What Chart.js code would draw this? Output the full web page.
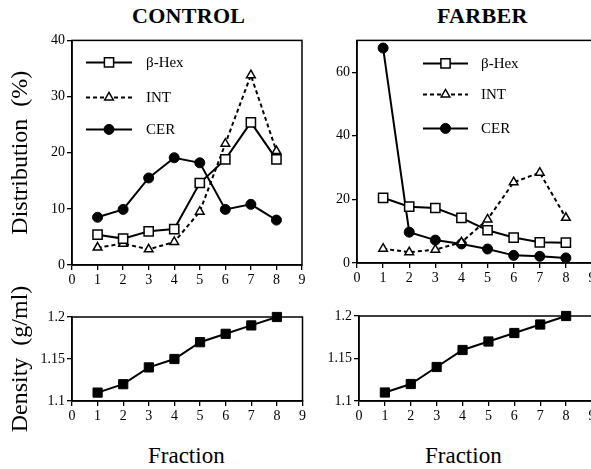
<!DOCTYPE html>
<html>
<head>
<meta charset="utf-8">
<script src="https://cdn.jsdelivr.net/npm/chart.js@4/dist/chart.umd.min.js"></script>
<style>
html, body { margin: 0; padding: 0; background: #fff; overflow: hidden; width: 591px; height: 469px; }
.cv { position: absolute; }
.cap { position: absolute; color: #000; font-family: "Liberation Serif", serif; white-space: nowrap; }
.head { top: 5px; font-size: 22px; line-height: 22px; font-weight: bold; letter-spacing: 0.3px; }
.frac { top: 444px; font-size: 23px; line-height: 23px; }
</style>
</head>
<body>

<div class="cap head" style="left:132px">CONTROL</div>
<div class="cap head" style="left:437px">FARBER</div>
<div class="cap frac" style="left:148px">Fraction</div>
<div class="cap frac" style="left:425px">Fraction</div>

<canvas id="ctlDist" class="cv" style="left:0;top:30px" width="310" height="270"></canvas>
<canvas id="farDist" class="cv" style="left:310px;top:30px" width="290" height="270"></canvas>
<canvas id="ctlDens" class="cv" style="left:0;top:270px" width="310" height="199"></canvas>
<canvas id="farDens" class="cv" style="left:310px;top:270px" width="290" height="199"></canvas>

<script>
// ---------------------------------------------------------
// data
// ---------------------------------------------------------

const fractions = [1, 2, 3, 4, 5, 6, 7, 8];

const ctlHex = [5.4, 4.7, 6.0, 6.4, 14.6, 18.8, 25.4, 18.8];
const ctlInt = [3.1, 3.8, 2.8, 4.1, 9.5, 21.6, 33.8, 20.3];
const ctlCer = [8.5, 9.9, 15.5, 19.1, 18.2, 9.9, 10.8, 8.0];

const farHex = [20.5, 17.7, 17.3, 14.2, 10.3, 8.0, 6.5, 6.4];
const farInt = [4.5, 3.4, 4.2, 6.5, 13.7, 25.4, 28.4, 14.2];
const farCer = [67.6, 9.7, 7.2, 6.0, 4.4, 2.4, 2.1, 1.6];

const ctlDensity = [1.11, 1.12, 1.14, 1.15, 1.17, 1.18, 1.19, 1.20];
const farDensity = [1.11, 1.12, 1.14, 1.16, 1.17, 1.18, 1.19, 1.20];

const fractionTicks = [0, 1, 2, 3, 4, 5, 6, 7, 8, 9];
const ctlDistTicks = [0, 10, 20, 30, 40];
const farDistTicks = [0, 20, 40, 60];
const densityTicks = [1.1, 1.15, 1.2];

const serif = "'Liberation Serif', 'Times New Roman', serif";


// ---------------------------------------------------------
// little plugins: box frame + key inside the plot
// ---------------------------------------------------------

const framePlugin = {
    id: "frame",
    beforeDatasetsDraw(chart) {
        const {ctx, chartArea: a} = chart;
        ctx.save();
        ctx.strokeStyle = "#000";
        ctx.lineWidth = 1.5;
        ctx.strokeRect(a.left, a.top, a.right - a.left, a.bottom - a.top);
        ctx.restore();
    }
};

function marker(ctx, ds, x, y) {
    const r = ds.pointRadius;
    ctx.fillStyle = ds.pointBackgroundColor;
    ctx.strokeStyle = ds.pointBorderColor;
    ctx.lineWidth = ds.pointBorderWidth;
    ctx.beginPath();
    if (ds.pointStyle === "rect") {
        const s = Math.SQRT1_2 * r;
        ctx.rect(x - s, y - s, 2 * s, 2 * s);
    } else if (ds.pointStyle === "triangle") {
        ctx.moveTo(x, y - r);
        ctx.lineTo(x + r * 0.866, y + r * 0.5);
        ctx.lineTo(x - r * 0.866, y + r * 0.5);
        ctx.closePath();
    } else {
        ctx.arc(x, y, r, 0, Math.PI * 2);
    }
    ctx.fill();
    ctx.stroke();
}

const keyPlugin = {
    id: "key",
    afterDatasetsDraw(chart, args, opts) {
        if (!opts.rows) return;
        const {ctx, chartArea: a} = chart;
        ctx.save();
        chart.data.datasets.forEach((ds, i) => {
            const y = a.top + opts.rows[i];
            const x0 = a.left + opts.x0;
            const x1 = a.left + opts.x1;
            ctx.strokeStyle = "#000";
            ctx.lineWidth = ds.borderWidth;
            ctx.setLineDash(ds.borderDash || []);
            ctx.beginPath();
            ctx.moveTo(x0, y);
            ctx.lineTo(x1, y);
            ctx.stroke();
            ctx.setLineDash([]);
            marker(ctx, ds, (x0 + x1) / 2, y);
            ctx.fillStyle = "#000";
            ctx.font = "15px " + serif;
            ctx.textBaseline = "middle";
            ctx.fillText(ds.label, a.left + opts.tx, y + 1);
        });
        ctx.restore();
    }
};


// ---------------------------------------------------------
// helpers
// ---------------------------------------------------------

function pts(values) {
    return fractions.map((f, i) => ({x: f, y: values[i]}));
}

function hexSet(values) {
    return {
        label: "β-Hex", data: pts(values),
        borderColor: "#000", borderWidth: 2,
        pointStyle: "rect", pointRadius: 6.5,
        pointBackgroundColor: "#fff", pointBorderColor: "#000", pointBorderWidth: 1.5,
        clip: false
    };
}

function intSet(values) {
    return {
        label: "INT", data: pts(values),
        borderColor: "#000", borderWidth: 2, borderDash: [4, 3],
        pointStyle: "triangle", pointRadius: 5,
        pointBackgroundColor: "#fff", pointBorderColor: "#000", pointBorderWidth: 1.5,
        clip: false
    };
}

function cerSet(values) {
    return {
        label: "CER", data: pts(values),
        borderColor: "#000", borderWidth: 2,
        pointStyle: "circle", pointRadius: 5,
        pointBackgroundColor: "#000", pointBorderColor: "#000", pointBorderWidth: 1,
        clip: false
    };
}

function densSet(values) {
    return {
        label: "Density", data: pts(values),
        borderColor: "#000", borderWidth: 2,
        pointStyle: "rect", pointRadius: 6.5,
        pointBackgroundColor: "#000", pointBorderColor: "#000", pointBorderWidth: 1,
        clip: false
    };
}

function axisBits() {
    return {
        grid: {display: true, drawOnChartArea: false, drawTicks: true, tickLength: 5, color: "#000", lineWidth: 1.3},
        border: {display: true, color: "#000", width: 1.5}
    };
}

function makeChart(id, datasets, o) {

    const yFmt = o.yFmt || (v => String(v));

    return new Chart(document.getElementById(id), {

        type: "line",

        data: {datasets: datasets},

        options: {
            responsive: false,
            animation: false,
            events: [],
            layout: {padding: o.padding},

            scales: {
                x: {
                    type: "linear", min: 0, max: 9,
                    ...axisBits(),
                    afterBuildTicks: s => { s.ticks = fractionTicks.map(v => ({value: v})); },
                    afterFit: s => { s.height = o.xh; },
                    ticks: {color: "#000", padding: 2, font: {family: serif, size: 14}, maxRotation: 0, autoSkip: false}
                },
                y: {
                    type: "linear", min: o.ymin, max: o.ymax,
                    ...axisBits(),
                    afterBuildTicks: s => { s.ticks = o.yticks.map(v => ({value: v})); },
                    afterFit: s => { s.width = o.yw; },
                    ticks: {color: "#000", padding: 2, font: {family: serif, size: 14}, callback: yFmt},
                    title: {
                        display: !!o.ytitle, text: o.ytitle || "", color: "#000",
                        font: {family: serif, size: 24, weight: "normal"},
                        padding: {top: 6, bottom: 0}
                    }
                }
            },

            plugins: {
                legend: {display: false},
                tooltip: {enabled: false},
                key: o.key || {}
            }
        },

        plugins: [framePlugin, keyPlugin]
    });
}


// ---------------------------------------------------------
// the four panels
// ---------------------------------------------------------

makeChart("ctlDist", [hexSet(ctlHex), intSet(ctlInt), cerSet(ctlCer)], {
    padding: {top: 9, right: 6, left: 0, bottom: 0},
    xh: 35, yw: 72,
    ymin: 0, ymax: 40, yticks: ctlDistTicks,
    ytitle: "Distribution  (%)",
    key: {x0: 14, x1: 60, tx: 74, rows: [22, 57, 89]}
});

makeChart("farDist", [hexSet(farHex), intSet(farInt), cerSet(farCer)], {
    padding: {top: 9, right: 8, left: 0, bottom: 0},
    xh: 37, yw: 47,
    ymin: 0, ymax: 70, yticks: farDistTicks,
    key: {x0: 66, x1: 111, tx: 124, rows: [23, 54, 88]}
});

makeChart("ctlDens", [densSet(ctlDensity)], {
    padding: {top: 47, right: 6, left: 0, bottom: 0},
    xh: 68, yw: 72,
    ymin: 1.1, ymax: 1.2, yticks: densityTicks,
    yFmt: v => String(Number(v.toFixed(2))),
    ytitle: "Density  (g/ml)"
});

makeChart("farDens", [densSet(farDensity)], {
    padding: {top: 46, right: 8, left: 0, bottom: 0},
    xh: 68, yw: 49,
    ymin: 1.1, ymax: 1.2, yticks: densityTicks,
    yFmt: v => String(Number(v.toFixed(2)))
});
</script>
</body>
</html>
